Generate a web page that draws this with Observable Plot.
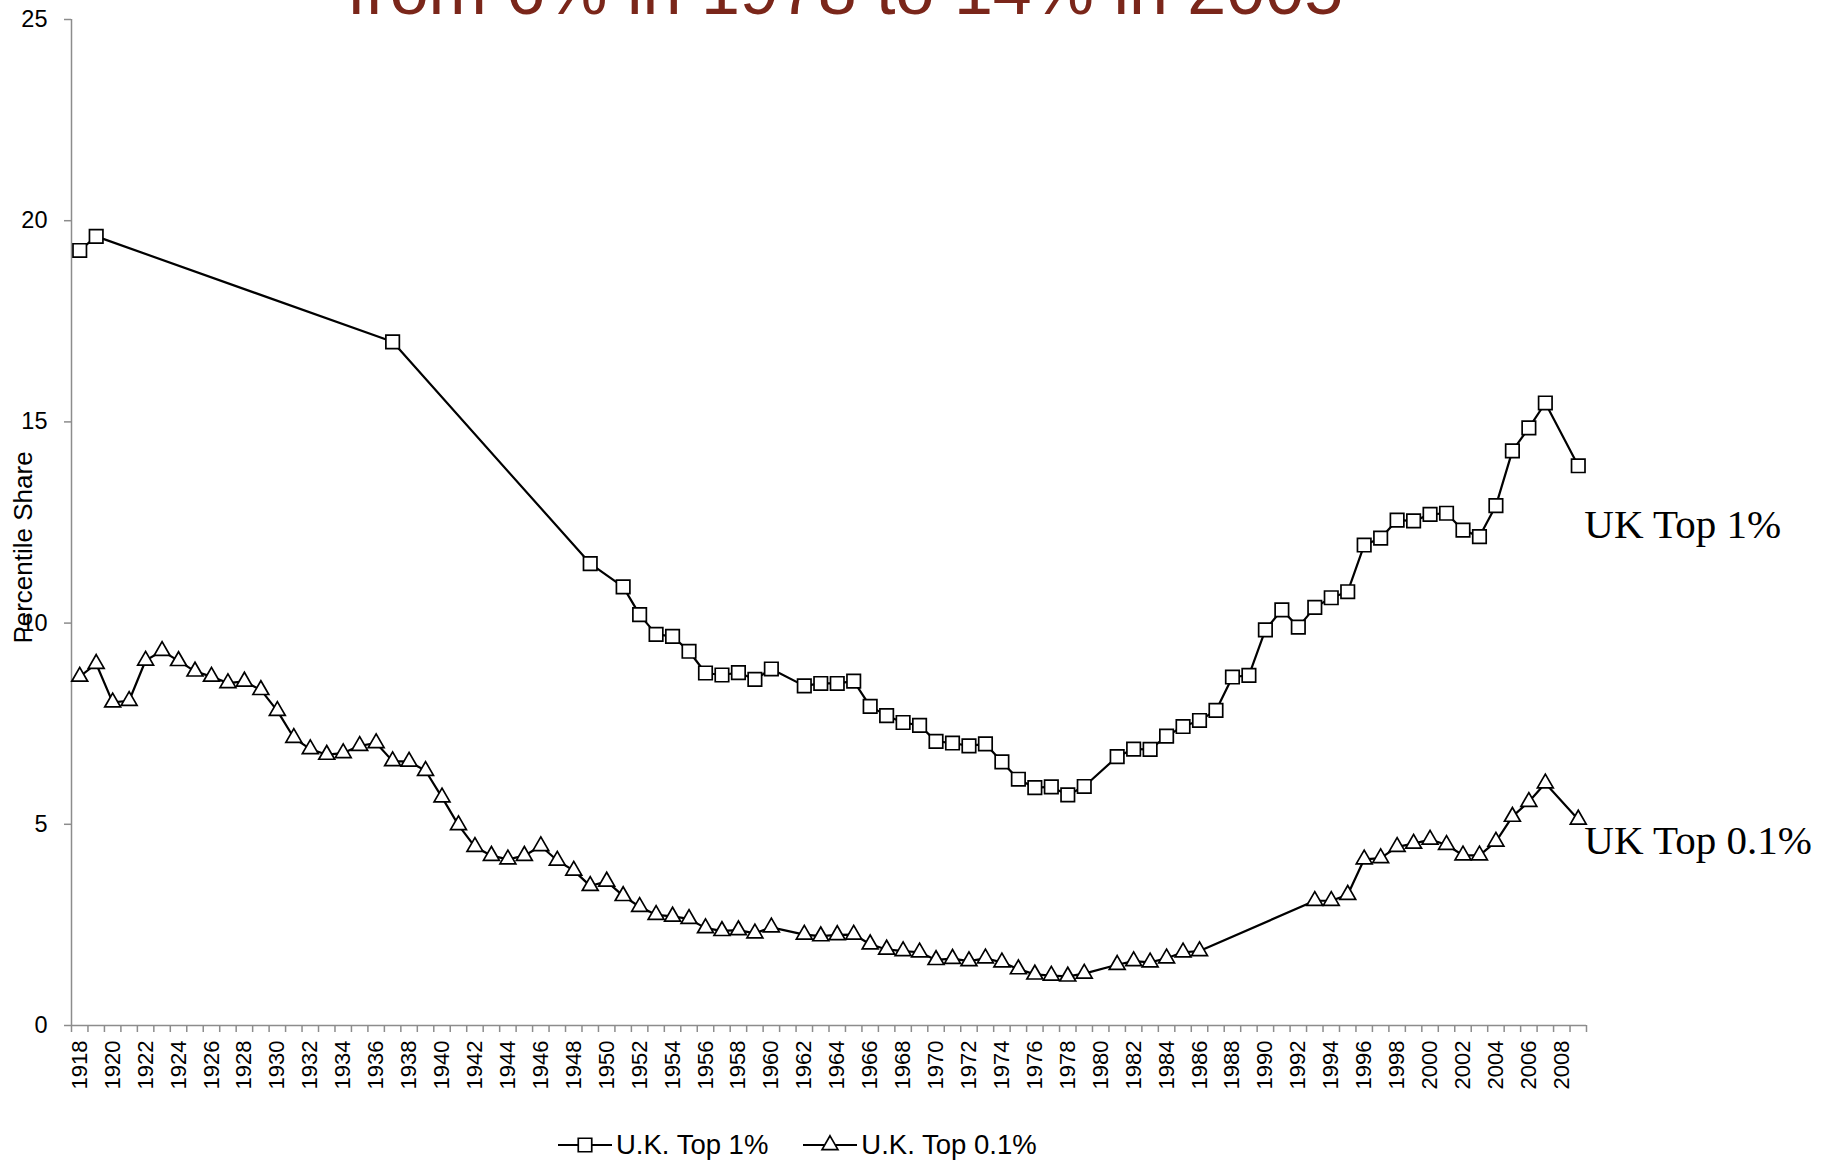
<!DOCTYPE html>
<html>
<head>
<meta charset="utf-8">
<script src="https://cdn.jsdelivr.net/npm/d3@7"></script>
<script src="https://cdn.jsdelivr.net/npm/@observablehq/plot@0.6"></script>
<style>
  html, body { margin: 0; padding: 0; background: #fff; }
  #wrap { position: relative; width: 1822px; height: 1161px; overflow: hidden; font-family: "Liberation Sans", Arial, sans-serif; }
  #title { position: absolute; left: 0; width: 1690px; top: -45px; text-align: center; font-size: 70px; line-height: 1; color: #7a261a; white-space: nowrap; }
  #chart { position: absolute; left: 0; top: 0; }
  #chart g[aria-label="x-axis tick label"], #chart g[aria-label="x-axis tick label"] text { font-size: 22px !important; }
  #chart g[aria-label="y-axis tick label"], #chart g[aria-label="y-axis tick label"] text { font-size: 23.5px !important; }
  #legend { position: absolute; top: 1130px; left: 558px; display: flex; align-items: center; height: 30px; font-size: 27.5px; color: #000; }
  .item { display: flex; align-items: center; }
  .item svg { margin-right: 4px; }
  .item + .item { margin-left: 35px; }
</style>
</head>
<body>
<div id="wrap">
  <div id="chart"></div>
  <div id="title">from 6% in 1978 to 14% in 2005</div>
  <div id="legend"></div>
</div>
<script>
// ---- Data ----
const categories = d3.range(1918, 2010); // x categories: every year 1918..2009
const tickYears = [1918,1920,1922,1924,1926,1928,1930,1932,1934,1936,1938,1940,1942,1944,1946,1948,1950,1952,1954,1956,1958,1960,1962,1964,1966,1968,1970,1972,1974,1976,1978,1980,1982,1984,1986,1988,1990,1992,1994,1996,1998,2000,2002,2004,2006,2008];
const yTicks = [0, 5, 10, 15, 20, 25];

const seriesNames = ["U.K. Top 1%", "U.K. Top 0.1%"];
const endLabels = ["UK Top 1%", "UK Top 0.1%"];

const top1Years = [1918,1919,1937,1949,1951,1952,1953,1954,1955,1956,1957,1958,1959,1960,1962,1963,1964,1965,1966,1967,1968,1969,1970,1971,1972,1973,1974,1975,1976,1977,1978,1979,1981,1982,1983,1984,1985,1986,1987,1988,1989,1990,1991,1992,1993,1994,1995,1996,1997,1998,1999,2000,2001,2002,2003,2004,2005,2006,2007,2009];
const top1Values = [19.26,19.61,16.99,11.48,10.90,10.21,9.72,9.67,9.30,8.76,8.71,8.77,8.60,8.86,8.44,8.50,8.50,8.56,7.93,7.70,7.53,7.46,7.06,7.02,6.95,7.00,6.55,6.12,5.91,5.93,5.73,5.94,6.68,6.87,6.86,7.19,7.43,7.58,7.83,8.66,8.70,9.83,10.33,9.90,10.39,10.63,10.78,11.94,12.11,12.56,12.54,12.70,12.73,12.31,12.15,12.92,14.28,14.85,15.47,13.91];

const top01Years = [1918,1919,1920,1921,1922,1923,1924,1925,1926,1927,1928,1929,1930,1931,1932,1933,1934,1935,1936,1937,1938,1939,1940,1941,1942,1943,1944,1945,1946,1947,1948,1949,1950,1951,1952,1953,1954,1955,1956,1957,1958,1959,1960,1962,1963,1964,1965,1966,1967,1968,1969,1970,1971,1972,1973,1974,1975,1976,1977,1978,1979,1981,1982,1983,1984,1985,1986,1993,1994,1995,1996,1997,1998,1999,2000,2001,2002,2003,2004,2005,2006,2007,2009];
const top01Values = [8.67,8.99,8.03,8.07,9.07,9.31,9.06,8.80,8.67,8.51,8.55,8.34,7.82,7.15,6.87,6.73,6.77,6.95,7.02,6.57,6.56,6.33,5.67,4.98,4.44,4.22,4.13,4.22,4.46,4.10,3.85,3.47,3.58,3.22,2.95,2.75,2.71,2.65,2.42,2.35,2.37,2.29,2.44,2.26,2.22,2.25,2.26,2.02,1.89,1.85,1.82,1.63,1.66,1.60,1.67,1.57,1.40,1.27,1.24,1.22,1.29,1.51,1.60,1.57,1.67,1.82,1.85,3.10,3.10,3.25,4.13,4.16,4.44,4.52,4.62,4.49,4.23,4.23,4.57,5.19,5.56,6.02,5.12];

// ---- Build tables ----
const top1 = top1Years.map((year, i) => ({year, value: top1Values[i]}));
const top01 = top01Years.map((year, i) => ({year, value: top01Values[i]}));
const boundaries = categories.map(y => y - 0.5).concat([categories[categories.length - 1] + 0.5]);

const axisGray = "#8c8c8c";
const sans = "Liberation Sans, Arial, sans-serif";
const serif = "Liberation Serif, Times New Roman, serif";
const squareR = 7.6, triR = 5.9;

const chart = Plot.plot({
  width: 1822,
  height: 1110,
  marginLeft: 71,
  marginRight: 236,
  marginTop: 19,
  marginBottom: 85,
  style: {fontFamily: sans, color: "#000", background: "#fff", overflow: "visible"},
  x: {domain: [boundaries[0], boundaries[boundaries.length - 1]]},
  y: {domain: [0, 25]},
  marks: [
    Plot.axisX({ticks: boundaries, tickFormat: () => "", tickSize: 7, stroke: axisGray, strokeWidth: 1.5, label: null}),
    Plot.axisX({ticks: tickYears, tickFormat: d => String(d), tickSize: 0, tickPadding: 15, tickRotate: -90, fontSize: 22, fill: "#000", label: null}),
    Plot.axisY({ticks: yTicks, tickSize: 7, tickPadding: 17, fontSize: 23.5, stroke: axisGray, strokeWidth: 1.5, fill: "#000", label: null}),
    Plot.ruleX([boundaries[0]], {stroke: axisGray, strokeWidth: 1.5}),
    Plot.ruleY([0], {stroke: axisGray, strokeWidth: 1.5}),
    Plot.text(["Percentile Share"], {frameAnchor: "left", text: d => d, rotate: -90, textAnchor: "middle", dx: -48, dy: 25, fontSize: 26, fill: "#000"}),
    Plot.line(top1, {x: "year", y: "value", stroke: "#000", strokeWidth: 2.2}),
    Plot.line(top01, {x: "year", y: "value", stroke: "#000", strokeWidth: 2.2}),
    Plot.dot(top1, {x: "year", y: "value", symbol: "square", r: squareR, fill: "#fff", stroke: "#000", strokeWidth: 1.7}),
    Plot.dot(top01, {x: "year", y: "value", symbol: "triangle", r: triR, fill: "#fff", stroke: "#000", strokeWidth: 1.7}),
    Plot.text([top1[top1.length - 1]], {x: "year", y: "value", text: () => endLabels[0], dx: 6, dy: 72, textAnchor: "start", lineAnchor: "bottom", fontFamily: serif, fontSize: 41, fill: "#000"}),
    Plot.text([top01[top01.length - 1]], {x: "year", y: "value", text: () => endLabels[1], dx: 6, dy: 35, textAnchor: "start", lineAnchor: "bottom", fontFamily: serif, fontSize: 41, fill: "#000"})
  ]
});
document.getElementById("chart").appendChild(chart);

// ---- Legend (HTML, below the plot) ----
const legend = document.getElementById("legend");
const symbols = ["square", "triangle"];
seriesNames.forEach((name, i) => {
  const item = document.createElement("div");
  item.className = "item";
  const sym = symbols[i] === "square" ? d3.symbolSquare : d3.symbolTriangle;
  const size = symbols[i] === "square" ? Math.PI * squareR * squareR : Math.PI * triR * triR;
  item.innerHTML = `<svg width="54" height="30" viewBox="0 0 54 30">
      <line x1="0" x2="54" y1="15" y2="15" stroke="#000" stroke-width="2.2"/>
      <path d="${d3.symbol(sym, size)()}" transform="translate(27,15)" fill="#fff" stroke="#000" stroke-width="1.7"/>
    </svg><span>${name}</span>`;
  legend.appendChild(item);
});
</script>
</body>
</html>
